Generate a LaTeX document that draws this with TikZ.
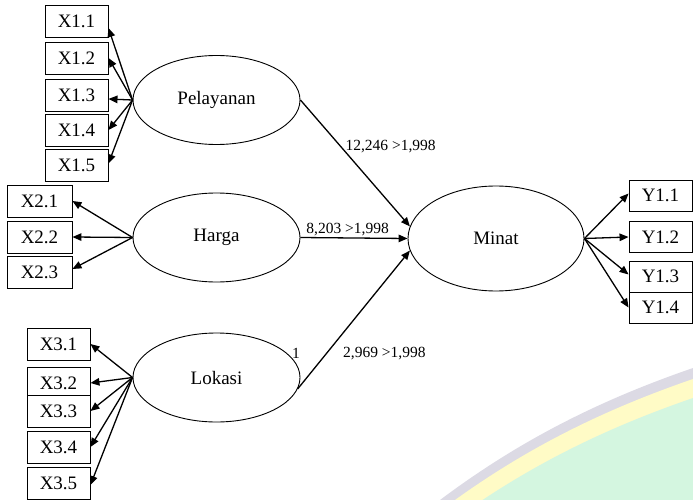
\documentclass[tikz,border=0pt]{standalone}
\usepackage{fontspec}
\setmainfont{Liberation Serif}
\usetikzlibrary{shapes.geometric, arrows.meta}

\definecolor{wmgrey}{RGB}{220,218,228}
\definecolor{wmyellow}{RGB}{255,251,198}
\definecolor{wmgreen}{RGB}{212,246,224}

\begin{document}
\begin{tikzpicture}[x=1pt, y=-1pt,
    ind/.style={draw, fill=white, line width=0.9pt, minimum width=63pt, minimum height=32pt, inner sep=0pt, font=\fontsize{19}{22}\selectfont},
    lat/.style={draw, shape=ellipse, line width=0.9pt, minimum width=167pt, minimum height=89pt, inner sep=0pt, font=\fontsize{19}{22}\selectfont},
    val/.style={inner sep=1pt, font=\fontsize{15.5}{18}\selectfont},
    arr/.style={line width=1.3pt, -{Triangle[length=9pt, width=7.5pt]}}]
    \useasboundingbox (0,0) rectangle (693,500);

    % watermark in the corner
    \fill[wmgrey] (440,500) .. controls (520,440) and (600,400) .. (693,368) -- (693,500) -- cycle;
    \fill[wmyellow] (440,511) .. controls (520,451) and (600,411) .. (693,379) -- (693,500) -- cycle;
    \fill[wmgreen] (440,530) .. controls (520,470) and (600,430) .. (693,398) -- (693,500) -- cycle;

    % latent variables
    \node(P)[lat] at (216.5,100) {Pelayanan};
    \node(H)[lat] at (216.5,237.5) {Harga};
    \node(L)[lat] at (216.5,377.5) {Lokasi};
    \node(M)[lat, minimum width=176pt, minimum height=105pt] at (496,238.5) {Minat};

    % indicators
    \node(X11)[ind] at (76.5,21) {X1.1};
    \node(X12)[ind] at (76.5,58) {X1.2};
    \node(X13)[ind] at (76.5,95) {X1.3};
    \node(X14)[ind] at (76.5,130) {X1.4};
    \node(X15)[ind] at (76.5,165.5) {X1.5};

    \node(X21)[ind, minimum width=65pt] at (39.5,201) {X2.1};
    \node(X22)[ind, minimum width=65pt] at (39.5,237) {X2.2};
    \node(X23)[ind, minimum width=65pt] at (39.5,272) {X2.3};

    \node(X31)[ind] at (58.5,344) {X3.1};
    \node(X32)[ind] at (58.5,383) {X3.2};
    \node(X33)[ind] at (58.5,411) {X3.3};
    \node(X34)[ind] at (58.5,447) {X3.4};
    \node(X35)[ind] at (58.5,483) {X3.5};

    \node(Y11)[ind, minimum height=31pt] at (660.5,195.5) {Y1.1};
    \node(Y12)[ind, minimum height=31pt] at (660.5,237) {Y1.2};
    \node(Y13)[ind, minimum height=31pt] at (660.5,276.5) {Y1.3};
    \node(Y14)[ind, minimum height=31pt] at (660.5,307.5) {Y1.4};

    % loadings
    \draw[arr] (P.west) -- ([yshift=-7pt]X11.east);
    \draw[arr] (P.west) -- (X12.east);
    \draw[arr] (P.west) -- ([yshift=-4pt]X13.east);
    \draw[arr] (P.west) -- (X14.east);
    \draw[arr] (P.west) -- ([yshift=2pt]X15.east);

    \draw[arr] (H.west) -- (X21.east);
    \draw[arr] (H.west) -- (X22.east);
    \draw[arr] (H.west) -- ([yshift=3pt]X23.east);

    \draw[arr] (L.west) -- (X31.east);
    \draw[arr] (L.west) -- (X32.east);
    \draw[arr] (L.west) -- (X33.east);
    \draw[arr] (L.west) -- (X34.east);
    \draw[arr] (L.west) -- ([yshift=-2pt]X35.east);

    \draw[arr] (M.east) -- ([yshift=2pt]Y11.west);
    \draw[arr] (M.east) -- (Y12.west);
    \draw[arr] (M.east) -- ([yshift=2pt]Y13.west);
    \draw[arr] (M.east) -- (Y14.west);

    % paths to Minat
    \draw[arr] (P.east) -- (M.172)
        node[val, anchor=west, pos=0.37, xshift=3pt] {12,246 >1,998};
    \draw[arr] (H.east) -- (M.west)
        node[val, above, pos=0.44] {8,203 >1,998};
    \draw[arr] (L.-8) -- (M.188);
    \node(t3)[val, anchor=west] at (342,354) {2,969 >1,998};
    \node(one)[val] at (296,353) {1};
\end{tikzpicture}
\end{document}
